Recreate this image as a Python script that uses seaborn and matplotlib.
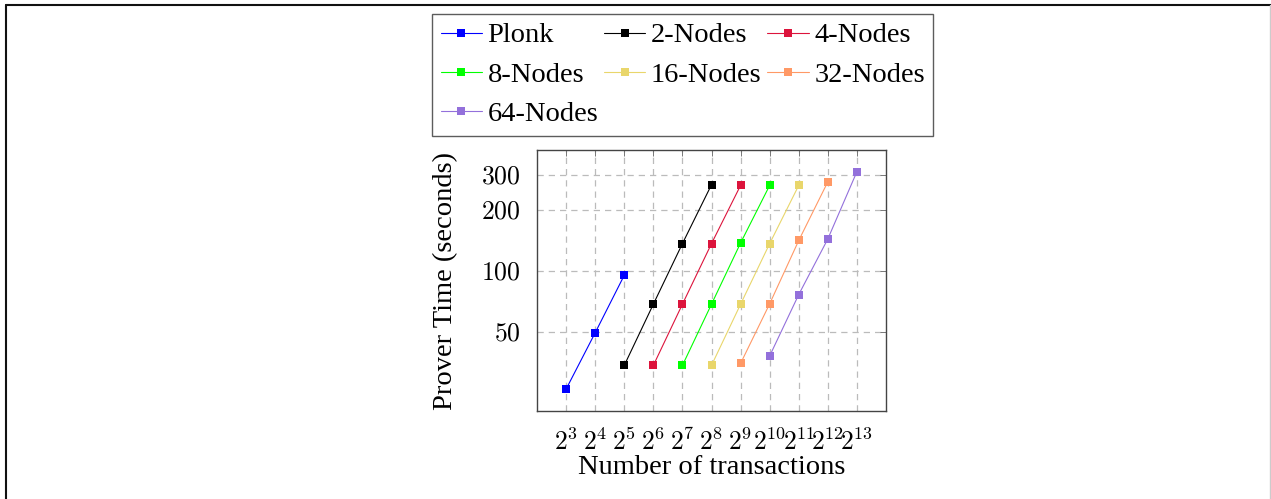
import numpy as np
import pandas as pd
import matplotlib
matplotlib.use("Agg")
import matplotlib.pyplot as plt
from matplotlib.lines import Line2D
import seaborn as sns

# Prover time (seconds) against batch size (number of transactions, powers of two)
plonk_exp = [3, 4, 5]
plonk_time = [26.1, 49.6, 95.5]

nodes2_exp = [5, 6, 7, 8]
nodes2_time = [34.2, 68.7, 137.0, 268.0]

nodes4_exp = [6, 7, 8, 9]
nodes4_time = [34.2, 68.7, 137.0, 266.0]

nodes8_exp = [7, 8, 9, 10]
nodes8_time = [34.2, 68.7, 138.0, 266.0]

nodes16_exp = [8, 9, 10, 11]
nodes16_time = [34.2, 68.7, 137.0, 266.0]

nodes32_exp = [9, 10, 11, 12]
nodes32_time = [35.0, 69.0, 142.0, 277.0]

nodes64_exp = [10, 11, 12, 13]
nodes64_time = [38.1, 76.7, 144.5, 311.0]

series_names = ["Plonk", "2-Nodes", "4-Nodes", "8-Nodes", "16-Nodes", "32-Nodes", "64-Nodes"]
series_colors = ["#0000FF", "#000000", "#DC143C", "#00FF00", "#E9D66B", "#FF9966", "#9370DB"]
series_data = [
    (plonk_exp, plonk_time),
    (nodes2_exp, nodes2_time),
    (nodes4_exp, nodes4_time),
    (nodes8_exp, nodes8_time),
    (nodes16_exp, nodes16_time),
    (nodes32_exp, nodes32_time),
    (nodes64_exp, nodes64_time),
]

x_tick_exps = list(range(3, 14))
y_ticks = [50, 100, 200, 300]

sns.set_theme(style="white")
plt.rcParams["font.family"] = ["Liberation Serif", "DejaVu Serif"]
plt.rcParams["mathtext.fontset"] = "cm"
plt.rcParams["text.color"] = "black"
plt.rcParams["axes.labelcolor"] = "black"
plt.rcParams["xtick.labelcolor"] = "black"
plt.rcParams["ytick.labelcolor"] = "black"

fig = plt.figure(figsize=(12.71, 4.99), dpi=100)
ax = fig.add_axes([537 / 1271, 1 - 411 / 499, 349 / 1271, 261 / 499])

for name, color, (exps, times) in zip(series_names, series_colors, series_data):
    df = pd.DataFrame({"tx": [2 ** e for e in exps], "time": times})
    sns.lineplot(data=df, x="tx", y="time", ax=ax, color=color, linewidth=0.8,
                 marker="s", markersize=6.4, markeredgewidth=0, label=name)

ax.set_xscale("log", base=2)
ax.set_yscale("log")
ax.set_xlim(2 ** 2, 2 ** 14)
ax.set_ylim(20.35, 398)

ax.set_xticks([2 ** e for e in x_tick_exps])
ax.set_xticklabels([rf"$2^{{{e}}}$" for e in x_tick_exps])
ax.set_yticks(y_ticks)
ax.set_yticklabels([rf"${v}$" for v in y_ticks])
ax.minorticks_off()

ax.tick_params(axis="both", which="major", direction="in", length=4, width=0.7,
               color="#777777", labelcolor="black", labelsize=18.5, top=True, right=True)
ax.tick_params(axis="x", pad=13)
ax.tick_params(axis="y", pad=12)
ax.grid(True, which="major", color="#BBBBBB", linestyle=(0, (5, 4)), linewidth=0.9)
for sp in ax.spines.values():
    sp.set_color("#444444")
    sp.set_linewidth(1.0)

ax.set_xlabel("Number of transactions", fontsize=20.5, labelpad=0, color="black")
ax.set_ylabel("Prover Time (seconds)", fontsize=20.5, labelpad=16, color="black")

# Legend laid out row by row: matplotlib fills columns first, so reorder entries
handles, labels = ax.get_legend_handles_labels()
order = [0, 3, 6, 1, 4, 2, 5]
leg = ax.legend([handles[i] for i in order], [labels[i] for i in order],
                loc="upper left", bbox_to_anchor=(432 / 1271, 1 - 14 / 499),
                bbox_transform=fig.transFigure, ncol=3, fontsize=20.5, frameon=True,
                fancybox=False, edgecolor="#333333", handlelength=1.45,
                handletextpad=0.2, columnspacing=0.2, labelspacing=0.47,
                borderpad=0.3, borderaxespad=0, labelcolor="black")
leg.get_frame().set_linewidth(1.0)

# Page frame around the figure
fig.add_artist(Line2D([6 / 1271, 6 / 1271], [0, 1 - 5 / 499], transform=fig.transFigure,
                      color="#111111", linewidth=1.5))
fig.add_artist(Line2D([6 / 1271, 1], [1 - 5 / 499, 1 - 5 / 499], transform=fig.transFigure,
                      color="#111111", linewidth=1.5))
fig.add_artist(Line2D([1270 / 1271, 1270 / 1271], [0, 1 - 5 / 499], transform=fig.transFigure,
                      color="#CCCCCC", linewidth=1.0))

fig.savefig("out.png", dpi=100)
